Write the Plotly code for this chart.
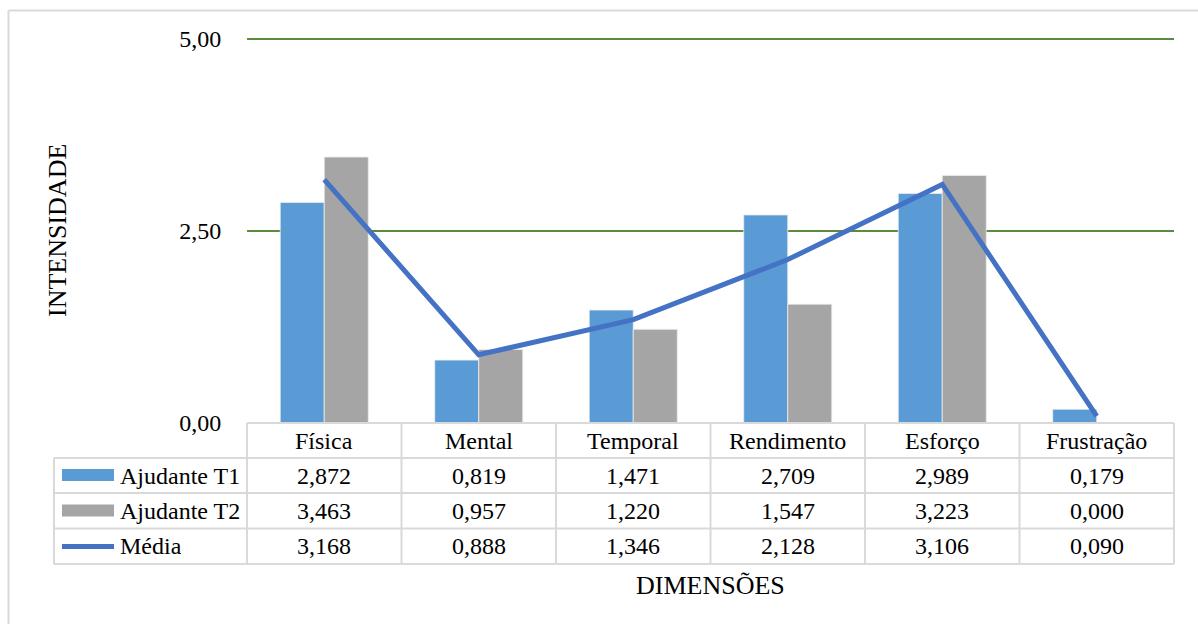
import plotly.graph_objects as go

categories = ["Física", "Mental", "Temporal", "Rendimento", "Esforço", "Frustração"]
ajudante_t1 = [2.872, 0.819, 1.471, 2.709, 2.989, 0.179]
ajudante_t2 = [3.463, 0.957, 1.220, 1.547, 3.223, 0.000]
media = [3.168, 0.888, 1.346, 2.128, 3.106, 0.090]
series_names = ["Ajudante T1", "Ajudante T2", "Média"]
y_tickvals = [0, 2.5, 5]
y_ticktext = ["0,00", "2,50", "5,00"]

W, H = 1198, 624
L, R, T, B = 247, 1174, 39, 423
PW, PH = R - L, B - T

def px(x):
    return (x - L) / PW

def py(y):
    return (B - y) / PH

FONT = "Liberation Serif"
C_T1 = "#5B9BD5"
C_T2 = "#A5A5A5"
C_MED = "#4472C4"
GRID = "#5B8C3C"
TBL = "#D9D9D9"

def fmt(v):
    return f"{v:.3f}".replace(".", ",")

fig = go.Figure()
fig.add_trace(go.Bar(x=categories, y=ajudante_t1, name=series_names[0],
                     marker=dict(color=C_T1, line=dict(color="#EDEDED", width=0.8))))
fig.add_trace(go.Bar(x=categories, y=ajudante_t2, name=series_names[1],
                     marker=dict(color=C_T2, line=dict(color="#EDEDED", width=0.8))))
fig.add_trace(go.Scatter(x=categories, y=media, name=series_names[2], mode="lines",
                         line=dict(color=C_MED, width=5), cliponaxis=False))

n = len(categories)
shapes = []
# outer chart border (top and left visible)
shapes.append(dict(type="line", xref="paper", yref="paper", x0=px(8.5), x1=px(W + 5),
                   y0=py(10.5), y1=py(10.5), line=dict(color=TBL, width=2), layer="below"))
shapes.append(dict(type="line", xref="paper", yref="paper", x0=px(8.5), x1=px(8.5),
                   y0=py(10.5), y1=py(H + 5), line=dict(color=TBL, width=2), layer="below"))
# top gridline at the axis maximum (top edge of the plot area, unclipped)
shapes.append(dict(type="line", xref="paper", yref="paper", x0=0, x1=1,
                   y0=1, y1=1, line=dict(color=GRID, width=2), layer="below"))

row_y = [423, 458, 493, 528.5, 564]
# horizontal table lines
for i, yy in enumerate(row_y):
    if i == 0:
        shapes.append(dict(type="line", xref="paper", yref="paper", x0=0, x1=1,
                           y0=py(yy), y1=py(yy), line=dict(color=TBL, width=2)))
    else:
        shapes.append(dict(type="line", xref="paper", yref="paper", x0=px(54), x1=1,
                           y0=py(yy), y1=py(yy), line=dict(color=TBL, width=2)))
# vertical table lines (category boundaries)
for k in range(n + 1):
    shapes.append(dict(type="line", xref="paper", yref="paper", x0=k / n, x1=k / n,
                       y0=py(row_y[0]), y1=py(row_y[-1]), line=dict(color=TBL, width=2)))
shapes.append(dict(type="line", xref="paper", yref="paper", x0=px(54), x1=px(54),
                   y0=py(row_y[1]), y1=py(row_y[-1]), line=dict(color=TBL, width=2)))

# legend keys in table
shapes.append(dict(type="rect", xref="paper", yref="paper", x0=px(62), x1=px(114),
                   y0=py(481), y1=py(469), fillcolor=C_T1, line=dict(width=0)))
shapes.append(dict(type="rect", xref="paper", yref="paper", x0=px(62), x1=px(114),
                   y0=py(516.5), y1=py(504.5), fillcolor=C_T2, line=dict(width=0)))
shapes.append(dict(type="line", xref="paper", yref="paper", x0=px(62), x1=px(114),
                   y0=py(546.5), y1=py(546.5), line=dict(color=C_MED, width=5)))

ann = []
TF = dict(family=FONT, size=24, color="#000")
for i, c in enumerate(categories):
    ann.append(dict(x=i, y=py((row_y[0] + row_y[1]) / 2), xref="x", yref="paper",
                    text=c, showarrow=False, font=TF,
                    xanchor="center", yanchor="middle"))
for r, vals in enumerate([ajudante_t1, ajudante_t2, media]):
    yc = py((row_y[r + 1] + row_y[r + 2]) / 2)
    ann.append(dict(x=px(118), y=yc, xref="paper", yref="paper", text=series_names[r],
                    showarrow=False, font=TF, xanchor="left", yanchor="middle"))
    for i, v in enumerate(vals):
        ann.append(dict(x=i, y=yc, xref="x", yref="paper", text=fmt(v), showarrow=False,
                        font=TF, xanchor="center", yanchor="middle"))
# axis titles
ann.append(dict(x=px(57), y=py(231), xref="paper", yref="paper", text="INTENSIDADE",
                textangle=-90, showarrow=False, font=dict(family=FONT, size=26, color="#000"),
                xanchor="center", yanchor="middle"))
ann.append(dict(x=px(710), y=py(585), xref="paper", yref="paper", text="DIMENSÕES",
                showarrow=False, font=dict(family=FONT, size=26, color="#000"),
                xanchor="center", yanchor="middle"))

fig.update_layout(
    width=W, height=H,
    margin=dict(l=L, r=W - R, t=T, b=H - B, pad=0),
    paper_bgcolor="white", plot_bgcolor="white",
    font=dict(family=FONT, color="#000"),
    barmode="group", bargap=0.43, bargroupgap=0,
    showlegend=False,
    shapes=shapes, annotations=ann,
    xaxis=dict(type="category", categoryorder="array", categoryarray=categories,
               range=[-0.5, n - 0.5], showticklabels=False, showgrid=False,
               zeroline=False, showline=False, ticks=""),
    yaxis=dict(range=[0, 5], tickvals=y_tickvals, ticktext=y_ticktext,
               showgrid=True, gridcolor=GRID, gridwidth=2,
               zeroline=True, zerolinecolor=TBL, zerolinewidth=2,
               showline=False, ticks="outside", ticklen=20, tickcolor="rgba(0,0,0,0)",
               tickfont=dict(family=FONT, size=24, color="#000")),
)

fig.write_html("out.html")
